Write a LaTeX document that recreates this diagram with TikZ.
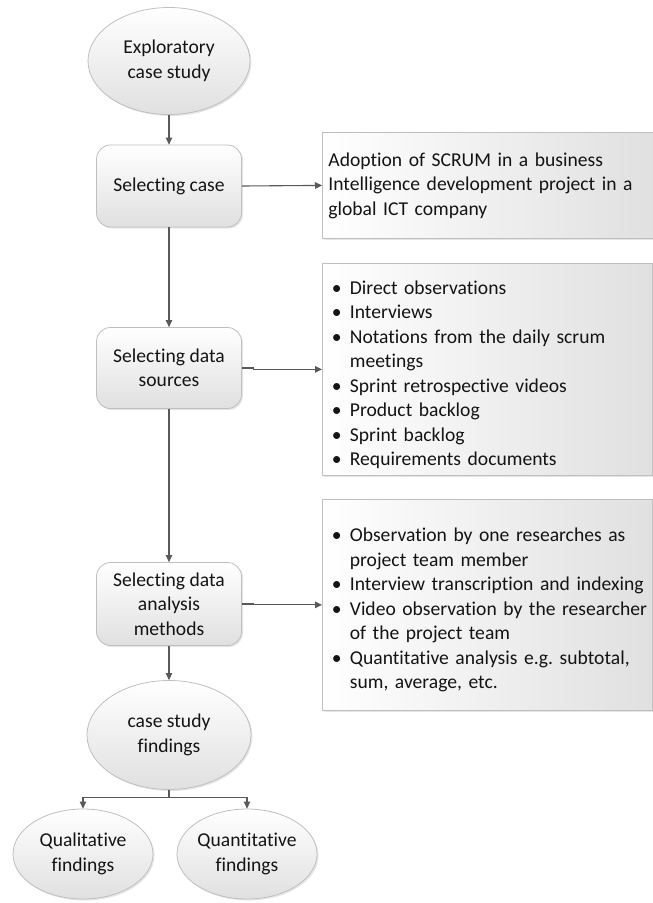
\documentclass[tikz,border=0pt]{standalone}
\usepackage{fontspec}
\setmainfont{Carlito}[Ligatures={NoCommon}]
\usepackage{xcolor}
\usepackage{tikz}
\usetikzlibrary{
  arrows.meta,
  shapes.geometric,
  positioning,
  calc,
  shadows
}
\definecolor{xline}{RGB}{89,89,89}
\definecolor{xedge}{RGB}{191,191,191}
\definecolor{xshade}{RGB}{224,224,224}
\definecolor{xtext}{RGB}{20,20,20}
\hyphenpenalty=10000
\frenchspacing
\newcommand{\bitem}{\par\hangindent=23pt\hangafter=1\noindent\hspace*{5pt}\makebox[18pt][l]{\textbullet}}

\begin{document}
\begin{tikzpicture}[
  x=1pt, y=1pt,
  font=\fontsize{19.6}{24.5}\selectfont, text=xtext,
  oval/.style={ellipse, draw=xedge, top color=white, bottom color=xshade,
               align=center, inner sep=0pt, line width=0.8pt,
               drop shadow={shadow xshift=1.5pt, shadow yshift=-1.5pt, fill=black!25, opacity=0.4}},
  stage/.style={rectangle, rounded corners=14pt, draw=xedge, top color=white, bottom color=xshade,
                minimum width=145pt, align=center, line width=0.8pt,
                drop shadow={shadow xshift=1.5pt, shadow yshift=-1.5pt, fill=black!25, opacity=0.4}},
  note/.style={rectangle, draw=xedge, left color=white, right color=xshade,
               anchor=north west, minimum width=330pt, text width=321pt,
               inner xsep=4.5pt, align=left, line width=0.8pt,
               drop shadow={shadow xshift=1.5pt, shadow yshift=-1.5pt, fill=black!25, opacity=0.4}},
  arr/.style={-{Triangle[length=7pt, width=6.5pt]}, color=xline, line width=1.1pt}
]
  \useasboundingbox (0,0) rectangle (653,-903);

  % main flow
  \node[oval, minimum width=162pt, minimum height=107pt] (start) at (169,-61)  {Exploratory\\case study};
  \node[stage, minimum height=82pt] (case) at (169,-186) {Selecting case};
  \node[stage, minimum height=81pt] (src)  at (169,-368) {Selecting data\\sources};
  \node[stage, minimum height=83pt] (meth) at (169,-604) {Selecting data\\analysis\\methods};
  \node[oval, minimum width=164pt, minimum height=109pt] (find) at (169,-735) {case study\\findings};
  \node[oval, minimum width=140pt, minimum height=90pt]  (qual)  at (83,-854)  {Qualitative\\findings};
  \node[oval, minimum width=138pt, minimum height=90pt]  (quant) at (247,-854) {Quantitative\\findings};

  % side notes
  \node[note, minimum height=106pt, inner xsep=6pt] (rcase) at (322,-132) {Adoption of SCRUM in a business\\Intelligence development project in a\\global ICT company};
  \node[note, minimum height=212pt] (rsrc) at (322,-263) {%
    \bitem Direct observations
    \bitem Interviews
    \bitem Notations from the daily scrum\newline meetings
    \bitem Sprint retrospective videos
    \bitem Product backlog
    \bitem Sprint backlog
    \bitem Requirements documents\par};
  \node[note, minimum height=211pt] (rmeth) at (322,-499) {%
    \bitem Observation by one researches as\newline project team member
    \bitem Interview transcription and indexing
    \bitem \mbox{Video observation by the researcher}\newline of the project team
    \bitem Quantitative analysis e.g. subtotal,\newline sum, average, etc.\par};

  \foreach \from/\to in {start/case, case/src, src/meth, meth/find}{
    \draw[arr] (\from.south) -- (\to.north);
  }

  \draw[arr] (case.east) -- (rcase.west);
  \draw[arr] (src.east) -- ++(12,0) |- (rsrc.west);
  \draw[arr] (meth.east) -- ++(12,0) |- (rmeth.west);

  \draw[arr] (find.south) -- ++(0,-8) -| (qual.north);
  \draw[arr] (find.south) -- ++(0,-8) -| (quant.north);
\end{tikzpicture}
\end{document}
